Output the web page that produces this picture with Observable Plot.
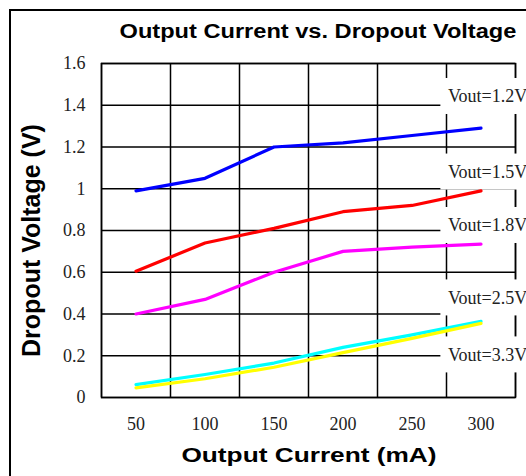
<!DOCTYPE html>
<html><head><meta charset="utf-8">
<script src="https://cdn.jsdelivr.net/npm/d3@7"></script>
<script src="https://cdn.jsdelivr.net/npm/@observablehq/plot@0.6"></script>
<style>
html,body{margin:0;padding:0;background:#fff;overflow:hidden;}
#wrap{position:relative;width:526px;height:476px;overflow:hidden;background:#fff;}
#border{position:absolute;left:9px;top:9px;width:700px;height:700px;border-left:2px solid #000;border-top:2px solid #000;}
#chart{position:absolute;left:0;top:40px;}
#chart svg, #chart svg g, #chart svg text{font-family:"Liberation Serif","Times New Roman",serif !important;font-variant:normal !important;}
.lab{position:absolute;font-family:"Liberation Sans",Arial,sans-serif;font-weight:bold;color:#000;white-space:nowrap;text-align:center;}
#title{left:0;width:636px;top:21px;font-size:20px;line-height:20px;transform:scaleX(1.18);}
#xlab{left:0;width:618px;top:444px;font-size:21px;line-height:21px;transform:scaleX(1.25);}
#ylab{left:-119.5px;width:300px;top:227.5px;font-size:25px;line-height:25px;transform:rotate(-90deg);}
</style>
</head><body>
<div id="wrap">
  <div id="border"></div>
  <div id="chart"></div>
  <div class="lab" id="title">Output Current vs. Dropout Voltage</div>
  <div class="lab" id="xlab">Output Current (mA)</div>
  <div class="lab" id="ylab">Dropout Voltage (V)</div>
</div>
<script>
// Data
const currents = [50, 100, 150, 200, 250, 300];
const vout12 = [0.99, 1.05, 1.20, 1.22, 1.255, 1.29];
const vout15 = [0.605, 0.74, 0.81, 0.89, 0.92, 0.99];
const vout18 = [0.40, 0.47, 0.60, 0.70, 0.72, 0.735];
const vout25 = [0.062, 0.11, 0.165, 0.24, 0.30, 0.365];
const vout33 = [0.046, 0.09, 0.145, 0.215, 0.283, 0.355];
const seriesNames = ["Vout=1.2V", "Vout=1.5V", "Vout=1.8V", "Vout=2.5V", "Vout=3.3V"];
const seriesColors = ["#0000ff", "#ff0000", "#ff00ff", "#00ffff", "#ffff00"];
const labelX = [276, 276, 276, 276, 276];
const labelY = [1.442, 1.08, 0.824, 0.477, 0.204];
const yTicks = [0, 0.2, 0.4, 0.6, 0.8, 1, 1.2, 1.4, 1.6];
const xGrid = [25, 75, 125, 175, 225, 275, 325];
const xDomain = [25, 325];

const seriesValues = [vout12, vout15, vout18, vout25, vout33];
const rows = [];
seriesNames.forEach((name, i) => currents.forEach((c, j) => rows.push({series: name, current: c, v: seriesValues[i][j]})));
const labels = seriesNames.map((name, i) => ({name, x: labelX[i], y: labelY[i]}));
const serif = "'Liberation Serif', 'Times New Roman', serif";

const chart = Plot.plot({
  width: 526, height: 436,
  marginTop: 23, marginBottom: 79, marginLeft: 101, marginRight: 11,
  style: {fontFamily: serif, fontSize: "18px", color: "#222", background: "transparent"},
  x: {domain: xDomain},
  y: {domain: [0, 1.6]},
  color: {domain: seriesNames, range: seriesColors},
  marks: [
    Plot.gridY({ticks: yTicks, stroke: "#000", strokeOpacity: 1, strokeWidth: 1.5}),
    Plot.gridX({ticks: xGrid, stroke: "#000", strokeOpacity: 1, strokeWidth: 1.5}),
    Plot.frame({stroke: "#000", strokeWidth: 1.5}),
    Plot.axisY({ticks: yTicks, tickSize: 0, tickPadding: 16, label: null, tickFormat: d => String(d), fontSize: 18, fontFamily: serif, fontVariant: "normal"}),
    Plot.axisX({ticks: currents, tickSize: 0, tickPadding: 20, label: null, tickFormat: d => String(d), fontSize: 18, fontFamily: serif, fontVariant: "normal"}),
    Plot.text(labels, {x: "x", y: "y", text: "name", textAnchor: "start", fill: "#222", fontSize: 18, fontFamily: serif, className: "vlabels"}),
    Plot.line(rows, {x: "current", y: "v", z: "series", stroke: "series", strokeWidth: 3.2, curve: "linear"})
  ]
});
document.getElementById("chart").appendChild(chart);

// white boxes behind the series labels
const xs = chart.scale("x"), ys = chart.scale("y");
let g = chart.querySelector("g.vlabels");
if (!g) g = [...chart.querySelectorAll('g[aria-label="text"]')].pop();
const ns = "http://www.w3.org/2000/svg";
const bg = document.createElementNS(ns, "g");
labels.forEach(l => {
  const r = document.createElementNS(ns, "rect");
  const px = xs.apply(l.x), py = ys.apply(l.y);
  r.setAttribute("x", px - 7);
  r.setAttribute("y", py - 18);
  r.setAttribute("width", 200);
  r.setAttribute("height", 36);
  r.setAttribute("fill", "#fff");
  bg.appendChild(r);
});
g.parentNode.insertBefore(bg, g);
</script>
</body></html>
